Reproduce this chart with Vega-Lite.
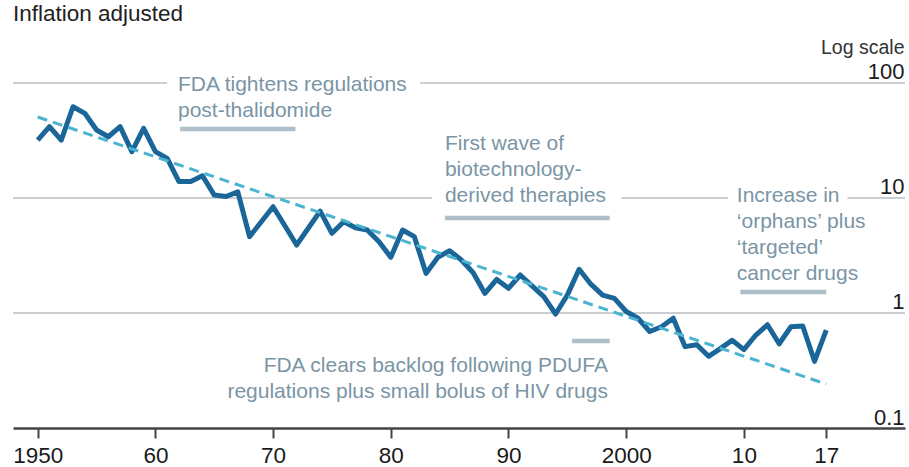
{
  "$schema": "https://vega.github.io/schema/vega-lite/v6.json",
  "width": 892,
  "height": 428,
  "autosize": {"type": "none"},
  "padding": {"left": 13, "top": 0, "right": 4, "bottom": 39},
  "background": "white",
  "config": {"view": {"stroke": null}, "font": "Liberation Sans"},
  "datasets": {
    "heading": [
      {"year": 1947.9, "value": 343, "label": "Inflation adjusted"}
    ],
    "grid": [
      {"year": 1947.9, "end": 1961.0, "value": 100},
      {"year": 1982.5, "end": 2023.69, "value": 100},
      {"year": 1947.9, "end": 1983.5, "value": 10},
      {"year": 1999.6, "end": 2008.65, "value": 10},
      {"year": 2018.8, "end": 2023.69, "value": 10},
      {"year": 1947.9, "end": 2023.69, "value": 1}
    ],
    "bars": [
      {"year": 1962.1, "end": 1971.9, "value": 39.8},
      {"year": 1984.6, "end": 1998.6, "value": 6.7},
      {"year": 1995.4, "end": 1998.6, "value": 0.57},
      {"year": 2009.7, "end": 2017.0, "value": 1.52}
    ],
    "notesLeft": [
      {"year": 1961.92, "value": 85.2, "label": "FDA tightens regulations\npost-thalidomide"},
      {"year": 1984.6, "value": 26.2, "label": "First wave of\nbiotechnology-\nderived therapies"},
      {"year": 2009.4, "value": 9.23, "label": "Increase in\n‘orphans’ plus\n‘targeted’\ncancer drugs"}
    ],
    "notesRight": [
      {"year": 1998.45, "value": 0.307, "label": "FDA clears backlog following PDUFA\nregulations plus small bolus of HIV drugs"}
    ],
    "trend": [
      {"year": 1950, "value": 50.6},
      {"year": 2017, "value": 0.241}
    ],
    "drugs": [
      {"year": 1950, "value": 31.9}, {"year": 1951, "value": 41.7}, {"year": 1952, "value": 31.9},
      {"year": 1953, "value": 62.2}, {"year": 1954, "value": 54.5}, {"year": 1955, "value": 39.0},
      {"year": 1956, "value": 34.1}, {"year": 1957, "value": 41.7}, {"year": 1958, "value": 25.3},
      {"year": 1959, "value": 40.4}, {"year": 1960, "value": 25.3}, {"year": 1961, "value": 22.1},
      {"year": 1962, "value": 13.9}, {"year": 1963, "value": 13.9}, {"year": 1964, "value": 15.6},
      {"year": 1965, "value": 10.6}, {"year": 1966, "value": 10.3}, {"year": 1967, "value": 11.3},
      {"year": 1968, "value": 4.61}, {"year": 1969, "value": 6.22}, {"year": 1970, "value": 8.4},
      {"year": 1971, "value": 5.74}, {"year": 1972, "value": 3.9}, {"year": 1973, "value": 5.48},
      {"year": 1974, "value": 7.7}, {"year": 1975, "value": 4.93}, {"year": 1976, "value": 6.22},
      {"year": 1977, "value": 5.52}, {"year": 1978, "value": 5.27}, {"year": 1979, "value": 4.17},
      {"year": 1980, "value": 3.05}, {"year": 1981, "value": 5.27}, {"year": 1982, "value": 4.61},
      {"year": 1983, "value": 2.21}, {"year": 1984, "value": 3.05}, {"year": 1985, "value": 3.48},
      {"year": 1986, "value": 2.89}, {"year": 1987, "value": 2.24}, {"year": 1988, "value": 1.48},
      {"year": 1989, "value": 1.96}, {"year": 1990, "value": 1.64}, {"year": 1991, "value": 2.14},
      {"year": 1992, "value": 1.72}, {"year": 1993, "value": 1.39}, {"year": 1994, "value": 0.98},
      {"year": 1995, "value": 1.43}, {"year": 1996, "value": 2.4}, {"year": 1997, "value": 1.78},
      {"year": 1998, "value": 1.43}, {"year": 1999, "value": 1.34}, {"year": 2000, "value": 1.03},
      {"year": 2001, "value": 0.9}, {"year": 2002, "value": 0.69}, {"year": 2003, "value": 0.76},
      {"year": 2004, "value": 0.9}, {"year": 2005, "value": 0.51}, {"year": 2006, "value": 0.53},
      {"year": 2007, "value": 0.42}, {"year": 2008, "value": 0.49}, {"year": 2009, "value": 0.58},
      {"year": 2010, "value": 0.48}, {"year": 2011, "value": 0.64}, {"year": 2012, "value": 0.79},
      {"year": 2013, "value": 0.54}, {"year": 2014, "value": 0.76}, {"year": 2015, "value": 0.77},
      {"year": 2016, "value": 0.38}, {"year": 2017, "value": 0.71}
    ]
  },
  "encoding": {
    "x": {
      "field": "year", "type": "quantitative",
      "scale": {"domain": [1947.9, 2023.69], "nice": false, "zero": false},
      "axis": {
        "title": null, "grid": false,
        "values": [1950, 1960, 1970, 1980, 1990, 2000, 2010, 2017],
        "labelExpr": "datum.value == 1950 || datum.value == 2000 ? '' + datum.value : substring('' + datum.value, 2)",
        "labelFont": "Liberation Sans", "labelFontSize": 22.5, "labelColor": "#1a1a1a",
        "labelBaseline": "alphabetic", "labelPadding": 24,
        "tickColor": "#444444", "tickWidth": 2, "tickSize": 10,
        "domainColor": "#444444", "domainWidth": 2.5
      }
    },
    "y": {
      "field": "value", "type": "quantitative",
      "scale": {"type": "log", "domain": [0.1, 526.9], "nice": false},
      "axis": {
        "orient": "right", "grid": false, "ticks": false, "tickSize": 0, "domain": false,
        "values": [0.1, 1, 10, 100],
        "labelExpr": "datum.value < 1 ? '0.1' : format(datum.value, 'd')",
        "labelAlign": "right", "labelBaseline": "alphabetic", "labelOffset": -4, "labelPadding": -1,
        "labelFont": "Liberation Sans", "labelFontSize": 22, "labelColor": "#1a1a1a",
        "title": "Log scale", "titleAngle": 0, "titleAlign": "right", "titleBaseline": "alphabetic",
        "titleX": -1, "titleY": 53, "titleFont": "Liberation Sans", "titleFontSize": 19.5,
        "titleFontWeight": "normal", "titleColor": "#333333"
      }
    }
  },
  "layer": [
    {
      "data": {"name": "grid"},
      "mark": {"type": "rule", "color": "#cbced0", "strokeWidth": 2},
      "encoding": {"x2": {"field": "end"}}
    },
    {
      "data": {"name": "bars"},
      "mark": {"type": "rule", "color": "#aebfc9", "strokeWidth": 4.5, "strokeCap": "butt"},
      "encoding": {"x2": {"field": "end"}}
    },
    {
      "data": {"name": "heading"},
      "mark": {"type": "text", "align": "left", "baseline": "alphabetic", "fontSize": 22.5, "color": "#222222", "font": "Liberation Sans"},
      "encoding": {"text": {"field": "label", "type": "nominal"}}
    },
    {
      "data": {"name": "notesLeft"},
      "mark": {"type": "text", "align": "left", "baseline": "alphabetic", "lineBreak": "\n", "lineHeight": 26, "fontSize": 21, "color": "#7a95a6", "font": "Liberation Sans"},
      "encoding": {"text": {"field": "label", "type": "nominal"}}
    },
    {
      "data": {"name": "notesRight"},
      "mark": {"type": "text", "align": "right", "baseline": "alphabetic", "lineBreak": "\n", "lineHeight": 26, "fontSize": 21, "color": "#7a95a6", "font": "Liberation Sans"},
      "encoding": {"text": {"field": "label", "type": "nominal"}}
    },
    {
      "data": {"name": "drugs"},
      "mark": {"type": "line", "color": "#1b6699", "strokeWidth": 5, "strokeJoin": "round"},
      "encoding": {}
    },
    {
      "data": {"name": "trend"},
      "mark": {"type": "line", "color": "#4bb4d0", "strokeWidth": 3, "strokeDash": [10, 6]},
      "encoding": {}
    }
  ]
}
